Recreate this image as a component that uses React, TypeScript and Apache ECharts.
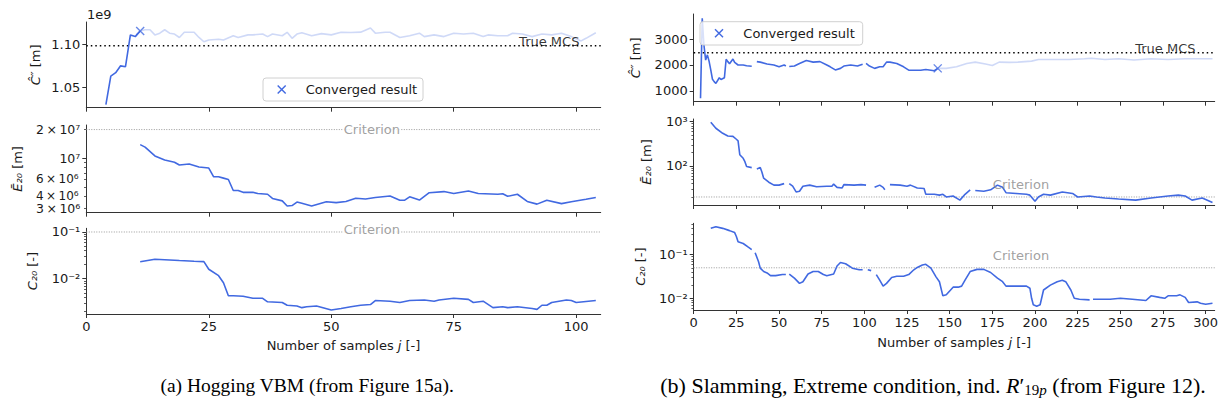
import React, { useEffect, useRef } from 'react';
import * as echarts from 'echarts';

// ---------------- DATA ----------------
// (a) Hogging VBM
const aTopConvX = [4, 5, 6, 7, 8, 9, 10, 11];
const aTopConvY = [1.030, 1.063, 1.067, 1.075, 1.074, 1.111, 1.109, 1.1155]; // x 1e9
const aTopRestX = [11, 12, 13, 14, 15, 16, 17, 18, 19, 20, 22, 23, 24, 25, 27, 28, 30, 31, 33, 34, 36, 37, 38, 40, 41, 42, 43, 44, 46, 48, 50, 52, 54, 56, 58, 59, 61, 62, 64, 66, 68, 69, 71, 73, 75, 77, 79, 81, 82, 84, 86, 87, 89, 91, 93, 95, 97, 99, 101, 102, 104];
const aTopRestY = [1.1155, 1.117, 1.117, 1.111, 1.113, 1.117, 1.113, 1.112, 1.108, 1.114, 1.114, 1.108, 1.103, 1.105, 1.106, 1.105, 1.110, 1.108, 1.111, 1.111, 1.112, 1.109, 1.112, 1.110, 1.114, 1.107, 1.112, 1.1135, 1.110, 1.1125, 1.111, 1.114, 1.1138, 1.1142, 1.119, 1.113, 1.114, 1.114, 1.108, 1.110, 1.113, 1.109, 1.111, 1.109, 1.113, 1.112, 1.113, 1.109, 1.111, 1.110, 1.110, 1.113, 1.112, 1.109, 1.112, 1.111, 1.113, 1.109, 1.104, 1.107, 1.1135];
const aTrueMCS = 1.0984;
const aConverged = [11, 1.1155];

const aMidX = [11, 12, 14, 16, 18, 19, 21, 23, 25, 26, 27, 28, 29, 30, 31, 32, 34, 35, 37, 38, 40, 41, 42, 43, 44, 46, 49, 51, 53, 55, 57, 59, 62, 64, 65, 66, 68, 70, 73, 75, 78, 80, 84, 85, 86, 88, 90, 92, 94, 97, 99, 102, 104];
const aMidY = [13.9e6, 13.1e6, 10.6e6, 9.6e6, 9.1e6, 8.5e6, 8.7e6, 8.1e6, 7.9e6, 6.4e6, 6.4e6, 6.2e6, 6.0e6, 4.6e6, 4.6e6, 4.4e6, 4.4e6, 4.27e6, 4.2e6, 3.8e6, 3.58e6, 3.16e6, 3.2e6, 3.48e6, 3.38e6, 3.16e6, 3.5e6, 3.43e6, 3.52e6, 3.82e6, 3.75e6, 3.88e6, 4.03e6, 3.64e6, 3.64e6, 3.95e6, 3.65e6, 4.36e6, 4.48e6, 4.27e6, 4.54e6, 4.27e6, 4.2e6, 4.25e6, 4.0e6, 4.2e6, 3.53e6, 3.31e6, 3.64e6, 3.35e6, 3.5e6, 3.72e6, 3.88e6];
const aMidCriterion = 2e7;

const aBotX = [11, 14, 16, 19, 22, 24, 25, 27, 28, 29, 30, 32, 34, 36, 37, 40, 41, 43, 44, 45, 47, 50, 52, 54, 56, 58, 59, 62, 64, 66, 69, 71, 72, 75, 78, 79, 81, 83, 85, 86, 88, 91, 92, 93, 94, 95, 98, 99, 100, 104];
const aBotY = [0.0231, 0.026, 0.0255, 0.0245, 0.0236, 0.0232, 0.0159, 0.0116, 0.0082, 0.0043, 0.0043, 0.0042, 0.0038, 0.0038, 0.0032, 0.0031, 0.0027, 0.0026, 0.0024, 0.0025, 0.0026, 0.00214, 0.0023, 0.0025, 0.0027, 0.0028, 0.0034, 0.0033, 0.0031, 0.0034, 0.0035, 0.0033, 0.0035, 0.0038, 0.0036, 0.0031, 0.0033, 0.0024, 0.0025, 0.0024, 0.0025, 0.0023, 0.0022, 0.0027, 0.0027, 0.0031, 0.0035, 0.0034, 0.0031, 0.0034];
const aBotCriterion = 0.1;

// (b) Slamming, extreme condition
const bTopConvX = [4, 5, 6, 7, 8, 9, 10, 11, 12, 13, 15, 16, 18, 19, 20, 21, 23, 24, 26, 29, 31, 34, 35, 37, 39, 43, 47, 50, 53, 54, 55, 56, 59, 62, 66, 70, 74, 78, 80, 83, 86, 88, 92, 96, 99, 100, 101, 103, 106, 109, 111, 113, 115, 119, 123, 126, 129, 133, 136, 139, 141, 143];
const bTopConvY = [720, 3796, 2770, 2190, 2390, 2150, 1810, 1450, 1360, 1290, 1510, 1440, 1510, 2220, 2130, 2050, 2230, 2100, 2000, 2000, 1970, 1950, null, 2130, 2110, 2040, 2000, 1930, 2000, 1960, null, 1940, 1960, 2060, 2170, 2110, 2130, 2000, 1930, 1810, 1870, 1960, 2000, 1960, 2030, null, 2060, 1960, 1870, 1930, 1930, 2110, 2110, 2060, 1930, 1800, 1800, 1800, 1830, 1800, 1780, 1870];
const bTopRestX = [143, 148, 154, 160, 165, 171, 175, 179, 185, 190, 198, 202, 210, 220, 229, 233, 241, 249, 258, 268, 278, 288, 297, 304];
const bTopRestY = [1870, 1870, 1930, 2060, 2110, 2040, 1980, 2110, 2100, 2110, 2150, 2210, 2210, 2210, 2240, 2260, 2210, 2240, 2190, 2240, 2210, 2240, 2240, 2240];
const bTrueMCS = 2470;
const bConverged = [143, 1870];

const bMidX = [10, 13, 17, 20, 23, 25, 26, 27, 29, 30, 31, 34, 35, 37, 39, 40, 41, 44, 47, 50, 53, 55, 56, 58, 60, 62, 64, 68, 72, 78, 81, 82, 84, 87, 88, 94, 98, 101, 103, 106, 109, 111, 112, 113, 115, 121, 125, 127, 131, 135, 136, 141, 144, 146, 148, 152, 156, 159, 162, 163, 165, 170, 174, 178, 181, 183, 189, 195, 197, 200, 202, 205, 209, 216, 222, 225, 232, 236, 241, 249, 259, 268, 278, 284, 288, 292, 298, 304];
const bMidY = [968, 710, 547, 475, 465, 401, 370, 180, 149, 125, 97, 92, null, 86, 92, 72, 53, 43, 37, 37, 40, null, 40, 35, 26, 27, 35, 37, 34, 35, 35, 39, 33, 32, 38, 37, 38, 37, null, 33, 37, 33, 29, null, 38, 37, 35, 37, 32, 31, 23, 23, 22, 23, 20, 21, 17, 23, 29, null, 28, 27, 29, 37, 33, 25, 24, 23, 22, 16, 20, 23, 22, 26, 24, 20, 21, 20, 19, 18, 17, 19, 21, 22, 21, 17, 19, 15];
const bMidCriterion = 20;

const bBotX = [10, 13, 17, 21, 24, 25, 26, 29, 32, 34, 35, 36, 38, 39, 41, 43, 45, 48, 52, 54, 55, 56, 59, 62, 64, 67, 70, 73, 76, 78, 82, 84, 86, 89, 93, 97, 99, 100, 102, 104, 105, 107, 109, 111, 113, 116, 119, 123, 126, 129, 131, 134, 136, 139, 142, 144, 146, 148, 152, 155, 157, 159, 162, 166, 170, 174, 178, 181, 183, 189, 195, 197, 198, 199, 201, 203, 205, 209, 213, 216, 218, 221, 223, 226, 232, 233, 234, 240, 244, 250, 257, 265, 268, 273, 276, 278, 283, 285, 288, 290, 295, 297, 300, 304];
const bBotY = [0.40, 0.437, 0.40, 0.355, 0.32, 0.26, 0.198, 0.18, 0.148, 0.13, null, 0.111, 0.069, 0.049, 0.041, 0.038, 0.033, 0.033, 0.035, 0.035, null, 0.036, 0.029, 0.022, 0.024, 0.036, 0.041, 0.041, 0.035, 0.033, 0.036, 0.055, 0.066, 0.062, 0.049, 0.045, 0.045, null, 0.045, 0.043, null, 0.035, 0.026, 0.019, 0.022, 0.030, 0.032, 0.032, 0.035, 0.045, 0.051, 0.058, 0.060, 0.049, 0.031, 0.024, 0.0114, 0.012, 0.018, 0.018, 0.019, 0.026, 0.041, 0.046, 0.046, 0.039, 0.029, 0.024, 0.019, 0.019, 0.019, 0.017, 0.010, 0.0071, 0.0066, 0.0071, 0.0155, 0.020, 0.024, 0.026, 0.024, 0.0155, 0.010, 0.0095, 0.0092, null, 0.0095, 0.0095, 0.0095, 0.010, 0.0095, 0.0089, 0.0114, 0.0105, 0.010, 0.0114, 0.0114, 0.012, 0.0105, 0.0080, 0.0083, 0.0077, 0.0073, 0.0077];
const bBotCriterion = 0.05;

// tick values
const aXTicks = [0, 25, 50, 75, 100];
const bXTicks = [0, 25, 50, 75, 100, 125, 150, 175, 200, 225, 250, 275, 300];
const aTopYTicks = [1.05, 1.10];
const aMidYLabels = [3e6, 1e7, 2e7];
const aMidYLabels2 = [4e6, 6e6];
const aMidYMajor = [1e7];
const aMidYMinor = [3e6, 4e6, 5e6, 6e6, 7e6, 8e6, 9e6, 2e7];
const aBotYMajor = [0.01, 0.1];
const aBotYMinor = [0.002, 0.003, 0.004, 0.005, 0.006, 0.007, 0.008, 0.009, 0.02, 0.03, 0.04, 0.05, 0.06, 0.07, 0.08, 0.09];
const bTopYTicks = [1000, 2000, 3000];
const bMidYMajor = [100, 1000];
const bMidYMinor = [20, 30, 40, 50, 60, 70, 80, 90, 200, 300, 400, 500, 600, 700, 800, 900];
const bBotYMajor = [0.01, 0.1];
const bBotYMinor = [0.006, 0.007, 0.008, 0.009, 0.02, 0.03, 0.04, 0.05, 0.06, 0.07, 0.08, 0.09, 0.2, 0.3, 0.4, 0.5];

// ---------------- STYLE ----------------
const BLUE = '#4169e1';
const LIGHT = 'rgba(65,105,225,0.25)';
const AX = '#333';
const TXT = '#1a1a1a';
const FONT = 'DejaVu Sans';
const FS = 13;

const L = Math.log10;
const SUP: Record<string, string> = { '0': '⁰', '1': '¹', '2': '²', '3': '³', '4': '⁴', '5': '⁵', '6': '⁶', '7': '⁷', '8': '⁸', '9': '⁹', '-': '⁻' };
const sup = (n: number) => String(n).split('').map((c) => SUP[c]).join('');
const logLabel = (v: number) => {
  const p = Math.pow(10, v);
  const e = Math.floor(Math.log10(p) + 1e-6);
  const m = Math.round(p / Math.pow(10, e));
  return m === 1 ? '10' + sup(e) : m + '\u2009×\u200910' + sup(e);
};

const pairs = (xs: number[], ys: (number | null)[], log: boolean) =>
  xs.map((x, i) => {
    const y = ys[i];
    return [x, y === null ? '-' : log ? L(y) : y];
  });

export default function App() {
  const ref = useRef<HTMLDivElement>(null);
  useEffect(() => {
    if (!ref.current) return;
    const chart = echarts.init(ref.current, undefined, { renderer: 'svg' });

    const grids = [
      { left: 86.3, top: 22, width: 514.4, height: 85.7 },
      { left: 86.3, top: 125, width: 514.4, height: 87.7 },
      { left: 86.3, top: 228.3, width: 514.4, height: 85.7 },
      { left: 693.7, top: 14, width: 521, height: 87.7 },
      { left: 693.7, top: 119, width: 521, height: 86 },
      { left: 693.7, top: 223.3, width: 521, height: 86.7 },
    ].map((g) => ({ ...g, outerBoundsMode: 'none', containLabel: false }));

    const xName = {
      name: '{n|Number of samples }{i|j}{n| [-]}',
      nameLocation: 'middle',
      nameTextStyle: {
        rich: {
          n: { fontFamily: FONT, fontSize: FS, color: TXT },
          i: { fontFamily: FONT, fontSize: FS, color: TXT, fontStyle: 'italic' },
        },
      },
    };
    const labelBase = { color: TXT, fontSize: FS, fontFamily: FONT, margin: 6, hideOverlap: false, showMinLabel: true, showMaxLabel: true };
    const xAxis = (gi: number, max: number, ticks: number[], labels: boolean, gap = 0) => ({
      type: 'value',
      gridIndex: gi,
      min: 0,
      max,
      ...(labels ? { ...xName, nameGap: gap } : {}),
      axisLine: { show: true, lineStyle: { color: AX, width: 1 } },
      axisTick: { show: true, customValues: ticks, length: 4, lineStyle: { color: AX, width: 1 } },
      axisLabel: { ...labelBase, show: labels, customValues: ticks },
      splitLine: { show: false },
    });
    const xAxes = [
      xAxis(0, 105, aXTicks, false),
      xAxis(1, 105, aXTicks, false),
      xAxis(2, 105, aXTicks, true, 25),
      xAxis(3, 305.3, bXTicks, false),
      xAxis(4, 305.3, bXTicks, false),
      xAxis(5, 305.3, bXTicks, true, 26),
    ];

    const yAxis = (gi: number, min: number, max: number, tickVals: number[], labelVals: number[], fmt: (v: number) => string, name: string, gap: number, lfs = FS) => ({
      type: 'value',
      gridIndex: gi,
      position: 'left',
      min,
      max,
      name,
      nameLocation: 'middle',
      nameGap: gap,
      nameRotate: 90,
      nameTextStyle: {
        color: TXT,
        fontSize: FS,
        fontFamily: FONT,
        rich: {
          i: { fontFamily: FONT, fontSize: FS, color: TXT, fontStyle: 'italic' },
          n: { fontFamily: FONT, fontSize: FS, color: TXT },
        },
      },
      axisLine: { show: true, lineStyle: { color: AX, width: 1 } },
      axisTick: { show: true, customValues: tickVals, length: 4, lineStyle: { color: AX, width: 1 } },
      axisLabel: { ...labelBase, fontSize: lfs, lineHeight: lfs, show: true, customValues: labelVals, formatter: fmt },
      splitLine: { show: false },
    });
    const minorAxis = (gi: number, min: number, max: number, vals: number[], labelVals?: number[]) => ({
      type: 'value',
      gridIndex: gi,
      position: 'left',
      min,
      max,
      axisLine: { show: false },
      axisTick: { show: true, customValues: vals, length: 2.3, lineStyle: { color: AX, width: 0.8 } },
      axisLabel: labelVals
        ? { ...labelBase, fontSize: 12, lineHeight: 12, padding: [0, 0, 3, 0], show: true, customValues: labelVals, formatter: logLabel, margin: 7.7 }
        : { show: false },
      splitLine: { show: false },
    });

    const cName = '{i|Ĉ″} {n|[m]}';
    const eName = '{i|Ē₂₀} {n|[m]}';
    const c20Name = '{i|C₂₀} {n|[-]}';

    const aMidMin = 6.430, aMidMax = 7.349;
    const aBotMin = -2.756, aBotMax = -0.921;
    const bMidMin = 1.12, bMidMax = 3.06;
    const bBotMin = -2.268, bBotMax = -0.282;

    const yAxes = [
      yAxis(0, 1.0263, 1.126, aTopYTicks, aTopYTicks, (v) => v.toFixed(2), cName, 44),
      yAxis(1, aMidMin, aMidMax, aMidYMajor.map(L), aMidYLabels.map(L), logLabel, eName, 62, 12.5),
      yAxis(2, aBotMin, aBotMax, aBotYMajor.map(L), aBotYMajor.map(L), logLabel, c20Name, 47),
      yAxis(3, 588, 3962, bTopYTicks, bTopYTicks, (v) => String(Math.round(v)), cName, 52),
      yAxis(4, bMidMin, bMidMax, bMidYMajor.map(L), bMidYMajor.map(L), logLabel, eName, 41),
      yAxis(5, bBotMin, bBotMax, bBotYMajor.map(L), bBotYMajor.map(L), logLabel, c20Name, 47),
      minorAxis(1, aMidMin, aMidMax, aMidYMinor.map(L), aMidYLabels2.map(L)),
      minorAxis(2, aBotMin, aBotMax, aBotYMinor.map(L)),
      minorAxis(4, bMidMin, bMidMax, bMidYMinor.map(L)),
      minorAxis(5, bBotMin, bBotMax, bBotYMinor.map(L)),
    ];

    const line = (gi: number, data: any[], color: string, width = 1.6, type: any = 'solid', z = 3) => ({
      type: 'line',
      xAxisIndex: gi,
      yAxisIndex: gi,
      data,
      showSymbol: false,
      symbol: 'none',
      connectNulls: false,
      silent: true,
      z,
      lineStyle: { color, width, type },
    });
    const hline = (gi: number, xmax: number, y: number, color: string, width: number, dash: number[]) =>
      line(gi, [[0, y], [xmax, y]], color, width, dash, 2);

    const textAt = (gi: number, x: number, y: number, text: string, color: string, bg: string | undefined, offset: number[]) => ({
      type: 'scatter',
      xAxisIndex: gi,
      yAxisIndex: gi,
      data: [[x, y]],
      symbolSize: 0,
      silent: true,
      z: 4,
      label: {
        show: true,
        position: 'inside',
        formatter: text,
        color,
        fontSize: FS,
        fontFamily: FONT,
        backgroundColor: bg,
        padding: bg ? [0, 1] : 0,
        offset,
      },
    });

    const cross = 'path://M0,0L10,10M10,0L0,10';
    const marker = (gi: number, pt: number[]) => ({
      type: 'scatter',
      xAxisIndex: gi,
      yAxisIndex: gi,
      data: [pt],
      symbol: cross,
      symbolSize: 8,
      silent: true,
      z: 5,
      itemStyle: { color: 'none', borderColor: BLUE, borderWidth: 1.4 },
    });

    const series = [
      // (a) top
      hline(0, 105, aTrueMCS, '#000', 1.6, [1.5, 3]),
      textAt(0, 94.5, aTrueMCS, 'True MCS', '#000', undefined, [0, -4]),
      line(0, pairs(aTopRestX, aTopRestY, false), LIGHT),
      line(0, pairs(aTopConvX, aTopConvY, false), BLUE),
      marker(0, aConverged),
      // (a) middle
      hline(1, 105, L(aMidCriterion), '#999', 1, [1, 1.5]),
      textAt(1, 58.3, L(aMidCriterion), 'Criterion', '#888', '#fff', [0, 0]),
      line(1, pairs(aMidX, aMidY, true), BLUE),
      // (a) bottom
      hline(2, 105, L(aBotCriterion), '#999', 1, [1, 1.5]),
      textAt(2, 58.3, L(aBotCriterion), 'Criterion', '#888', '#fff', [0, -2]),
      line(2, pairs(aBotX, aBotY, true), BLUE),
      // (b) top
      hline(3, 305.3, bTrueMCS, '#000', 1.6, [1.5, 3]),
      textAt(3, 276.4, bTrueMCS, 'True MCS', '#000', undefined, [0, -4]),
      line(3, pairs(bTopRestX, bTopRestY, false), LIGHT),
      line(3, pairs(bTopConvX, bTopConvY, false), BLUE),
      marker(3, bConverged),
      // (b) middle
      hline(4, 305.3, L(bMidCriterion), '#999', 1, [1, 1.5]),
      textAt(4, 191.8, L(bMidCriterion), 'Criterion', '#888', undefined, [0, -12]),
      line(4, pairs(bMidX, bMidY, true), BLUE),
      // (b) bottom
      hline(5, 305.3, L(bBotCriterion), '#999', 1, [1, 1.5]),
      textAt(5, 191.8, L(bBotCriterion), 'Criterion', '#888', undefined, [0, -12]),
      line(5, pairs(bBotX, bBotY, true), BLUE),
    ];

    const legend = (x0: number, y0: number, w: number, h: number, mx: number, tx: number) => [
      {
        type: 'rect',
        z: 100,
        shape: { x: x0, y: y0, width: w, height: h, r: 3 },
        style: { fill: 'rgba(255,255,255,0.8)', stroke: '#d0d0d0', lineWidth: 1 },
      },
      { type: 'line', z: 101, shape: { x1: mx - 4, y1: y0 + h / 2 - 4, x2: mx + 4, y2: y0 + h / 2 + 4 }, style: { stroke: BLUE, lineWidth: 1.4 } },
      { type: 'line', z: 101, shape: { x1: mx - 4, y1: y0 + h / 2 + 4, x2: mx + 4, y2: y0 + h / 2 - 4 }, style: { stroke: BLUE, lineWidth: 1.4 } },
      {
        type: 'text',
        z: 101,
        x: tx,
        y: y0 + h / 2,
        style: { text: 'Converged result', fill: TXT, font: `${FS}px "${FONT}"`, textVerticalAlign: 'middle' },
      },
    ];

    const capRich = (fs: number) => ({
      n: { fontFamily: 'Liberation Serif', fontSize: fs, color: '#111' },
      l: { fontFamily: 'Liberation Serif', fontSize: fs, color: '#3b7b76' },
      i: { fontFamily: 'Liberation Serif', fontSize: fs, color: '#111', fontStyle: 'italic' },
      s: { fontFamily: 'Liberation Serif', fontSize: Math.round(fs * 0.7), color: '#111', padding: [9, 0, 0, 0] },
      si: { fontFamily: 'Liberation Serif', fontSize: Math.round(fs * 0.7), color: '#111', fontStyle: 'italic', padding: [9, 0, 0, 0] },
    });

    const graphic = [
      { type: 'text', x: 87, y: 14, style: { text: '1e9', fill: TXT, font: `${FS}px "${FONT}"`, textVerticalAlign: 'middle' } },
      ...legend(263, 78, 160, 23, 281.7, 305.7),
      ...legend(700, 21.7, 162.7, 23.3, 719, 743.3),
      {
        type: 'text',
        x: 307,
        y: 385,
        style: {
          text: '{n|(a) Hogging VBM (from }{l|Figure 15a}{n|).}',
          rich: capRich(19.5),
          textAlign: 'center',
          textVerticalAlign: 'middle',
        },
      },
      {
        type: 'text',
        x: 933,
        y: 385,
        style: {
          text: '{n|(b) Slamming, Extreme condition, ind. }{i|R}{n|′}{s|19}{si|p}{n| (from }{l|Figure 12}{n|).}',
          rich: capRich(22),
          textAlign: 'center',
          textVerticalAlign: 'middle',
        },
      },
    ];

    chart.setOption({
      animation: false,
      textStyle: { fontFamily: FONT },
      grid: grids,
      xAxis: xAxes,
      yAxis: yAxes,
      series,
      graphic,
    });
    return () => chart.dispose();
  }, []);

  return <div ref={ref} style={{ position: 'fixed', left: 0, top: 0, width: 1225, height: 410, background: '#fff' }} />;
}
